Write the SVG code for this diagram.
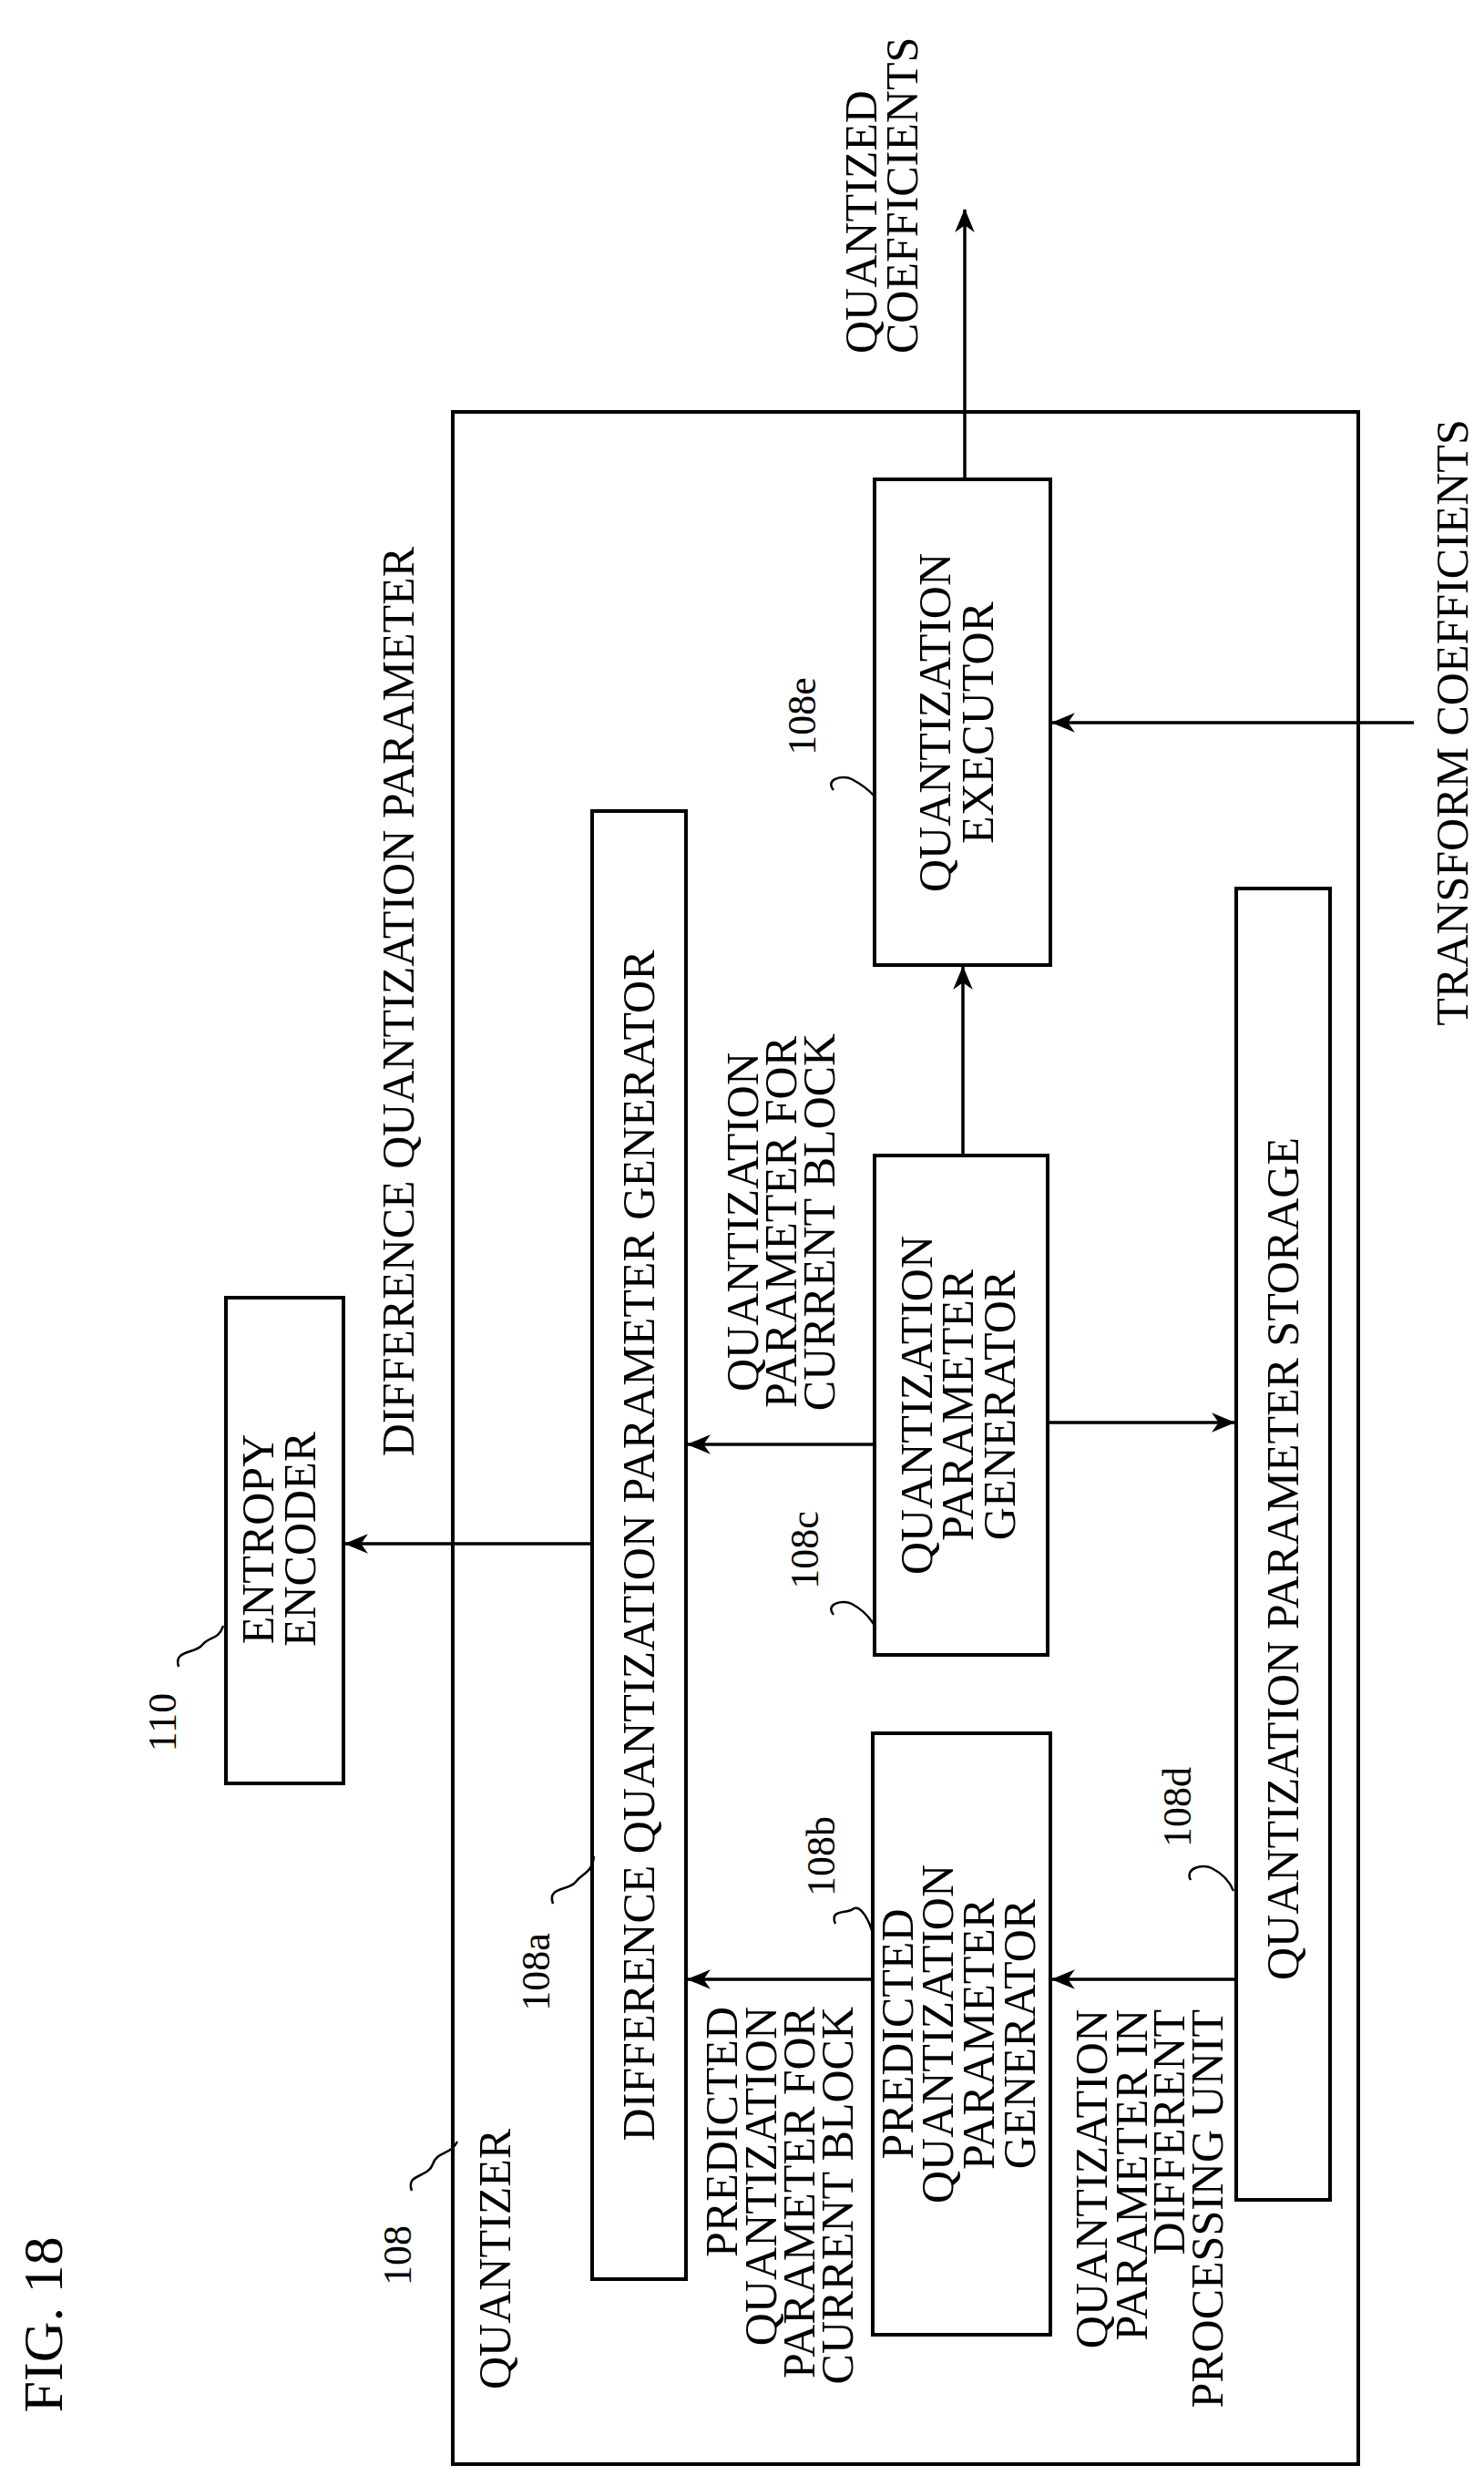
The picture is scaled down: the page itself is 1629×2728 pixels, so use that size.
<svg xmlns="http://www.w3.org/2000/svg" width="1629" height="2728" viewBox="0 0 1629 2728">
<style>
text{font-family:"Liberation Serif","Times New Roman",serif;font-size:50px;fill:#000;dominant-baseline:central}
.m{text-anchor:middle}.s{text-anchor:start}.e{text-anchor:end}
.ref{font-size:44px}
rect{fill:none;stroke:#000;stroke-width:4}
.ln{fill:none;stroke:#000;stroke-width:3.5}
.ld{fill:none;stroke:#000;stroke-width:2.5}
</style>
<defs><marker id="ah" viewBox="0 0 20 20" refX="19" refY="10" markerWidth="8" markerHeight="8" markerUnits="userSpaceOnUse" orient="auto"><path d="M0,0 L20,10 L0,20 L6,10 Z" fill="#000"/></marker>
<marker id="a" viewBox="0 0 24 20" refX="23" refY="10" markerWidth="26" markerHeight="22" markerUnits="userSpaceOnUse" orient="auto"><path d="M0,0 L24,10 L0,20 L7,10 Z" fill="#000"/></marker></defs>
<text class="m" style="font-size:62px" transform="translate(47,2551) rotate(-90)">FIG. 18</text>
<g id="n108"><rect x="497" y="452" width="994" height="2252"/>
<text class="s" transform="translate(543,2622) rotate(-90)">QUANTIZER</text>
<text class="m ref" transform="translate(436,2475) rotate(-90)">108</text>
<path class="ld" d="M452,2404 C445,2385 470,2390 475,2375 C480,2360 495,2365 502,2350"/></g>
<g id="n110"><rect x="248" y="1424" width="129" height="533"/>
<text class="m" transform="translate(283,1689) rotate(-90)">ENTROPY</text>
<text class="m" transform="translate(329,1689) rotate(-90)">ENCODER</text>
<text class="m ref" transform="translate(178,1890) rotate(-90)">110</text>
<path class="ld" d="M196,1829 C190,1810 215,1815 222,1805 C230,1795 240,1800 245,1784"/></g>
<g id="n108a"><rect x="650" y="890" width="103" height="1611"/>
<text class="m" transform="translate(701,1696) rotate(-90)">DIFFERENCE QUANTIZATION PARAMETER GENERATOR</text>
<text class="m ref" transform="translate(588,2164) rotate(-90)">108a</text>
<path class="ld" d="M607,2089 C600,2070 625,2075 632,2065 C640,2055 650,2055 652,2037"/></g>
<g id="n108b"><rect x="958" y="1902" width="195" height="660"/>
<text class="m" transform="translate(985,2232) rotate(-90)">PREDICTED</text>
<text class="m" transform="translate(1029,2232) rotate(-90)">QUANTIZATION</text>
<text class="m" transform="translate(1074,2232) rotate(-90)">PARAMETER</text>
<text class="m" transform="translate(1119,2232) rotate(-90)">GENERATOR</text>
<text class="m ref" transform="translate(901,2037) rotate(-90)">108b</text>
<path class="ld" d="M917,2111 C910,2095 930,2100 936,2095 C945,2088 955,2110 958,2122"/></g>
<g id="n108c"><rect x="960" y="1268" width="190" height="548"/>
<text class="m" transform="translate(1006,1542) rotate(-90)">QUANTIZATION</text>
<text class="m" transform="translate(1051,1542) rotate(-90)">PARAMETER</text>
<text class="m" transform="translate(1097,1542) rotate(-90)">GENERATOR</text>
<text class="m ref" transform="translate(883,1701) rotate(-90)">108c</text>
<path class="ld" d="M915,1772 C905,1760 925,1755 935,1760 C948,1767 955,1775 960,1784"/></g>
<g id="n108d"><rect x="1357" y="975" width="103" height="1439"/>
<text class="s" transform="translate(1408,2173) rotate(-90)">QUANTIZATION PARAMETER STORAGE</text>
<text class="m ref" transform="translate(1292,1983) rotate(-90)">108d</text>
<path class="ld" d="M1307,2063 C1300,2050 1320,2045 1330,2050 C1342,2056 1350,2065 1354,2075"/></g>
<g id="n108e"><rect x="960" y="526" width="193" height="533"/>
<text class="m" transform="translate(1026,793) rotate(-90)">QUANTIZATION</text>
<text class="m" transform="translate(1073,793) rotate(-90)">EXECUTOR</text>
<text class="m ref" transform="translate(880,786) rotate(-90)">108e</text>
<path class="ld" d="M915,867 C905,855 925,850 935,855 C948,862 955,868 960,874"/></g>
<g id="labels">
<text class="e" transform="translate(437,600) rotate(-90)">DIFFERENCE QUANTIZATION PARAMETER</text>
<text class="s" transform="translate(945,388) rotate(-90)">QUANTIZED</text>
<text class="s" transform="translate(990,388) rotate(-90)">COEFFICIENTS</text>
<text class="m" transform="translate(1594,793) rotate(-90)">TRANSFORM COEFFICIENTS</text>
<text class="m" transform="translate(815,1341) rotate(-90)">QUANTIZATION</text>
<text class="m" transform="translate(857,1341) rotate(-90)">PARAMETER FOR</text>
<text class="m" transform="translate(899,1341) rotate(-90)">CURRENT BLOCK</text>
<text class="e" transform="translate(792,2202) rotate(-90)">PREDICTED</text>
<text class="e" transform="translate(835,2202) rotate(-90)">QUANTIZATION</text>
<text class="e" transform="translate(877,2202) rotate(-90)">PARAMETER FOR</text>
<text class="e" transform="translate(919,2202) rotate(-90)">CURRENT BLOCK</text>
<text class="e" transform="translate(1198,2205) rotate(-90)">QUANTIZATION</text>
<text class="e" transform="translate(1242,2205) rotate(-90)">PARAMETER IN</text>
<text class="e" transform="translate(1283,2205) rotate(-90)">DIFFERENT</text>
<text class="e" transform="translate(1325,2205) rotate(-90)">PROCESSING UNIT</text>
</g>
<g id="connectors">
<path class="ln" marker-end="url(#a)" d="M650,1694 H379"/>
<path class="ln" marker-end="url(#a)" d="M960,1585 H755"/>
<path class="ln" marker-end="url(#a)" d="M958,2172 H755"/>
<path class="ln" marker-end="url(#a)" d="M1357,2172 H1155"/>
<path class="ln" marker-end="url(#a)" d="M1150,1561 H1355"/>
<path class="ln" marker-end="url(#a)" d="M1057,1268 V1061"/>
<path class="ln" marker-end="url(#a)" d="M1552,793 H1155"/>
<path class="ln" marker-end="url(#a)" d="M1059,526 V230"/>
</g>
</svg>
